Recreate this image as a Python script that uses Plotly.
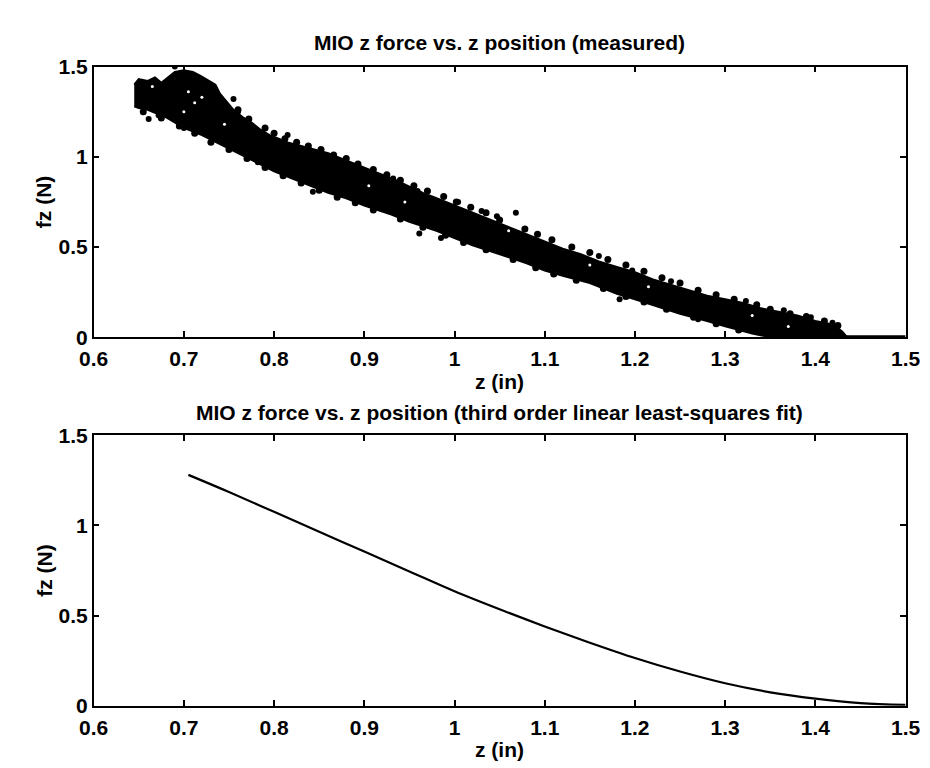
import plotly.graph_objects as go

# ---------------- data ----------------
# measured band: upper edge (left -> right)
band_upper_x = [0.645, 0.650, 0.660, 0.668, 0.675, 0.682, 0.690, 0.700, 0.710, 0.718, 0.725, 0.735,
                0.740, 0.748, 0.755, 0.765, 0.775, 0.785, 0.795, 0.805, 0.815, 0.830, 0.845, 0.860,
                0.875, 0.890, 0.905, 0.920, 0.935, 0.950, 0.965, 0.980, 0.995, 1.010, 1.025, 1.040,
                1.055, 1.070, 1.085, 1.100, 1.120, 1.140, 1.160, 1.180, 1.200, 1.220, 1.240, 1.260,
                1.280, 1.300, 1.320, 1.340, 1.360, 1.380, 1.400, 1.420, 1.430, 1.435]
band_upper_y = [1.40, 1.43, 1.42, 1.44, 1.41, 1.44, 1.47, 1.48, 1.47, 1.45, 1.43, 1.40,
                1.35, 1.30, 1.26, 1.22, 1.19, 1.15, 1.12, 1.10, 1.08, 1.06, 1.04, 1.02,
                0.99, 0.96, 0.93, 0.90, 0.87, 0.835, 0.80, 0.77, 0.74, 0.71, 0.68, 0.65,
                0.62, 0.59, 0.56, 0.53, 0.49, 0.46, 0.42, 0.39, 0.36, 0.32, 0.29, 0.26,
                0.23, 0.21, 0.19, 0.16, 0.14, 0.12, 0.09, 0.07, 0.03, 0.0]
# measured band: lower edge (right -> left)
band_lower_x = [1.350, 1.330, 1.300, 1.280, 1.250, 1.220, 1.200, 1.180, 1.150, 1.120, 1.100, 1.080,
                1.050, 1.020, 1.000, 0.980, 0.950, 0.930, 0.900, 0.880, 0.860, 0.840, 0.820, 0.800,
                0.780, 0.760, 0.740, 0.720, 0.700, 0.690, 0.680, 0.670, 0.660, 0.650, 0.645]
band_lower_y = [0.0, 0.02, 0.06, 0.09, 0.13, 0.18, 0.21, 0.24, 0.30, 0.34, 0.37, 0.41,
                0.46, 0.51, 0.55, 0.59, 0.64, 0.68, 0.73, 0.77, 0.80, 0.84, 0.88, 0.92,
                0.97, 1.02, 1.07, 1.12, 1.16, 1.19, 1.22, 1.24, 1.26, 1.27, 1.28]
# individual measurements along the upper edge of the band
edge_up_x = [0.760, 0.772, 0.790, 0.800, 0.812, 0.825, 0.838, 0.852, 0.866, 0.880, 0.893, 0.910,
             0.925, 0.940, 0.955, 0.970, 0.988, 1.002, 1.018, 1.035, 1.050, 1.078, 1.092, 1.108,
             1.130, 1.150, 1.170, 1.190, 1.210, 1.230, 1.250, 1.270, 1.290, 1.310, 1.335, 1.350,
             1.372, 1.390, 1.410, 1.425]
edge_up_y = [1.26, 1.21, 1.16, 1.13, 1.10, 1.08, 1.06, 1.04, 1.01, 0.99, 0.96, 0.93,
             0.90, 0.87, 0.84, 0.81, 0.78, 0.75, 0.72, 0.69, 0.65, 0.60, 0.57, 0.54,
             0.50, 0.47, 0.43, 0.40, 0.365, 0.33, 0.30, 0.26, 0.235, 0.21, 0.18, 0.155,
             0.13, 0.115, 0.09, 0.065]
# individual measurements along the lower edge of the band
edge_lo_x = [0.655, 0.675, 0.695, 0.712, 0.730, 0.750, 0.770, 0.790, 0.810, 0.830, 0.850, 0.870,
             0.890, 0.910, 0.940, 0.965, 0.990, 1.010, 1.035, 1.065, 1.090, 1.110, 1.135, 1.165,
             1.190, 1.210, 1.235, 1.265, 1.290, 1.315]
edge_lo_y = [1.25, 1.215, 1.17, 1.13, 1.08, 1.04, 0.99, 0.94, 0.895, 0.855, 0.815, 0.775,
             0.745, 0.705, 0.655, 0.61, 0.565, 0.525, 0.485, 0.43, 0.385, 0.35, 0.315, 0.27,
             0.225, 0.195, 0.155, 0.11, 0.075, 0.04]
# scattered outlying measurements
outlier_x = [0.896, 0.843, 0.959, 1.004, 1.047, 1.068, 0.932, 0.961, 1.197, 1.183, 1.323, 0.661,
             0.782, 1.419, 0.672, 0.700, 0.760, 0.815, 0.870, 0.915, 0.985, 1.030, 1.110, 1.160,
             1.240, 1.270, 1.365, 1.395, 0.755, 0.690]
outlier_y = [0.935, 0.806, 0.810, 0.750, 0.670, 0.690, 0.880, 0.575, 0.370, 0.210, 0.200, 1.210,
             0.970, 0.080, 1.230, 1.160, 1.250, 1.120, 0.790, 0.720, 0.550, 0.700, 0.350, 0.450,
             0.310, 0.100, 0.150, 0.110, 1.320, 1.500]
# gaps (white specks) inside the dense band
gap_x = [0.705, 0.712, 0.700, 0.720, 0.665, 0.745, 0.905, 0.945, 1.060, 1.150, 1.215, 1.330, 1.370]
gap_y = [1.36, 1.30, 1.25, 1.33, 1.39, 1.18, 0.84, 0.75, 0.59, 0.40, 0.28, 0.12, 0.06]
# points resting at zero force
zero_x = [1.350, 1.500]
zero_y = [0.0, 0.0]

# third order least-squares fit
fit_z = [0.705, 0.75, 0.80, 0.85, 0.90, 0.95, 1.00, 1.05, 1.10, 1.15, 1.20, 1.25, 1.30, 1.35, 1.40, 1.45, 1.50]
fit_f = [1.28, 1.185, 1.075, 0.965, 0.855, 0.745, 0.635, 0.535, 0.44, 0.35, 0.265, 0.19, 0.125, 0.075, 0.04, 0.015, 0.005]

x_ticks = [0.6, 0.7, 0.8, 0.9, 1.0, 1.1, 1.2, 1.3, 1.4, 1.5]
x_tick_labels = ["0.6", "0.7", "0.8", "0.9", "1", "1.1", "1.2", "1.3", "1.4", "1.5"]
y_ticks = [0, 0.5, 1.0, 1.5]
y_tick_labels = ["0", "0.5", "1", "1.5"]

title_top = "MIO z force vs. z position (measured)"
title_bottom = "MIO z force vs. z position (third order linear least-squares fit)"
x_title = "z (in)"
y_title = "fz (N)"

# ---------------- figure ----------------
W, H = 930, 768
FONT = "Liberation Sans, Arial, Helvetica, sans-serif"
fig = go.Figure()

poly_x = band_upper_x + band_lower_x
poly_y = band_upper_y + band_lower_y
fig.add_trace(go.Scatter(x=poly_x, y=poly_y, mode="lines", fill="toself", fillcolor="black",
                         line=dict(color="black", width=2), xaxis="x", yaxis="y", hoverinfo="skip"))
fig.add_trace(go.Scatter(x=zero_x, y=zero_y, mode="lines", line=dict(color="black", width=4),
                         xaxis="x", yaxis="y", hoverinfo="skip"))
fig.add_trace(go.Scatter(x=edge_up_x + edge_lo_x, y=edge_up_y + edge_lo_y, mode="markers",
                         marker=dict(color="black", size=7), xaxis="x", yaxis="y"))
fig.add_trace(go.Scatter(x=outlier_x, y=outlier_y, mode="markers",
                         marker=dict(color="black", size=6), xaxis="x", yaxis="y"))
fig.add_trace(go.Scatter(x=gap_x, y=gap_y, mode="markers",
                         marker=dict(color="white", size=3), xaxis="x", yaxis="y"))
fig.add_trace(go.Scatter(x=fit_z, y=fit_f, mode="lines", line=dict(color="black", width=2.2),
                         line_shape="spline", xaxis="x2", yaxis="y2"))

xd = [73 / W, 912 / W]
top_y = [1 - 327 / H, 1 - 48 / H]
bot_y = [1 - 707 / H, 1 - 428 / H]

tickfont = dict(family=FONT, size=21, color="black", weight="bold")
common = dict(showline=True, linecolor="black", linewidth=1.5, mirror="ticks", ticks="inside",
              ticklen=6, tickwidth=1.5, tickcolor="black", showgrid=False, zeroline=False,
              tickfont=tickfont)
fig.update_layout(
    width=W, height=H, showlegend=False,
    paper_bgcolor="white", plot_bgcolor="white",
    margin=dict(l=0, r=0, t=0, b=0),
    xaxis=dict(domain=xd, range=[0.6, 1.5], tickvals=x_ticks, ticktext=x_tick_labels,
               anchor="y", ticklabelstandoff=2, **common),
    yaxis=dict(domain=top_y, range=[0, 1.5], tickvals=y_ticks, ticktext=y_tick_labels,
               anchor="x", **common),
    xaxis2=dict(domain=xd, range=[0.6, 1.5], tickvals=x_ticks, ticktext=x_tick_labels,
                anchor="y2", ticklabelstandoff=2, **common),
    yaxis2=dict(domain=bot_y, range=[0, 1.5], tickvals=y_ticks, ticktext=y_tick_labels,
                anchor="x2", **common),
)

tf = dict(family=FONT, size=21, color="black", weight="bold")
cx = (xd[0] + xd[1]) / 2
annos = [
    dict(text=title_top, x=cx, y=1 - 23 / H),
    dict(text=title_bottom, x=cx, y=1 - 405 / H),
    dict(text=x_title, x=cx, y=1 - 373 / H),
    dict(text=x_title, x=cx, y=1 - 752 / H),
    dict(text=y_title, x=22 / W, y=(top_y[0] + top_y[1]) / 2, textangle=-90),
    dict(text=y_title, x=22 / W, y=(bot_y[0] + bot_y[1]) / 2, textangle=-90),
]
for a in annos:
    fig.add_annotation(xref="paper", yref="paper", xanchor="center", yanchor="middle",
                       showarrow=False, font=tf, **a)

fig.write_html("out.html")
